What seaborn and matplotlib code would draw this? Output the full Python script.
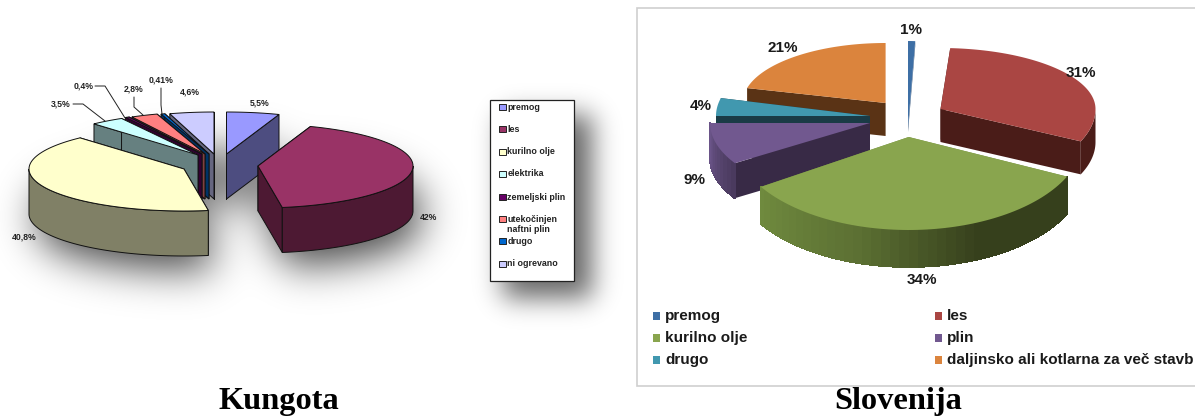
import numpy as np
import matplotlib
matplotlib.use('Agg')
import matplotlib.pyplot as plt
from matplotlib.patches import Rectangle
from matplotlib.path import Path
import seaborn as sns

# left pie (Kungota)
kungota_labels = ['premog', 'les', 'kurilno olje', 'elektrika', 'zemeljski plin',
                  'utekočinjen\nnaftni plin', 'drugo', 'ni ogrevano']
kungota_values = [5.5, 42, 40.8, 3.5, 0.4, 2.8, 0.41, 4.6]
kungota_text = ['5,5%', '42%', '40,8%', '3,5%', '0,4%', '2,8%', '0,41%', '4,6%']
kungota_tops = ['#9999FF', '#993366', '#FFFFCC', '#CCFFFF', '#660066', '#FF8080', '#0066CC', '#CCCCFF']
kungota_sides = ['#4D4D80', '#4D1933', '#808066', '#668080', '#330033', '#804040', '#003366', '#666680']

# right pie (Slovenija)
slovenija_labels = ['premog', 'les', 'kurilno olje', 'plin', 'drugo', 'daljinsko ali kotlarna za več stavb']
slovenija_values = [1, 31, 34, 9, 4, 21]
slovenija_text = ['1%', '31%', '34%', '9%', '4%', '21%']
slovenija_tops = ['#3E6FA5', '#AA4643', '#89A54E', '#71588F', '#4198AF', '#DB843D']
slovenija_sides = ['#2A4A70', '#4A1C18', '#6E8B3D', '#382A46', '#1A3B46', '#5A3315']

W, H = 1195, 418


def wedge_angles(values):
    edges = np.cumsum([0] + list(values)) / np.sum(values) * 2 * np.pi
    return edges[:-1], edges[1:]


def rim(cx, cy, rx, ry, ry_front, a, b, n=80):
    t = np.linspace(a, b, n)
    c = np.cos(t)
    return cx + rx * np.sin(t), cy - np.where(c > 0, ry, ry_front) * c


def draw_wedge(ax, a, b, cx, cy, rx, ry, ry_front, depth, top, side, edge, lw, z, gradient=None):
    xs, ys = rim(cx, cy, rx, ry, ry_front, a, b)
    # cut faces first, the rim and the top go over whatever is hidden
    for i in (0, -1):
        ax.fill([cx, xs[i], xs[i], cx], [cy, ys[i], ys[i] + depth, cy + depth],
                color=side, ec=edge, lw=lw, zorder=z)
    # only the front half of the rim can be seen
    a2, b2 = max(a, np.pi / 2), min(b, 3 * np.pi / 2)
    if b2 > a2:
        fx, fy = rim(cx, cy, rx, ry, ry_front, a2, b2)
        if gradient is None:
            ax.fill(np.r_[fx, fx[::-1]], np.r_[fy, fy[::-1] + depth], color=side, ec=edge, lw=lw, zorder=z)
        else:
            # shaded front of a slice
            for i in range(len(fx) - 1):
                c = gradient[min(int(len(gradient) * (1 - i / (len(fx) - 1))), len(gradient) - 1)]
                ax.fill([fx[i], fx[i + 1], fx[i + 1], fx[i]],
                        [fy[i], fy[i + 1], fy[i + 1] + depth, fy[i] + depth],
                        color=c, lw=0.6, ec=c, antialiased=False, zorder=z)
    ax.fill(np.r_[cx, xs], np.r_[cy, ys], color=top, ec=edge, lw=lw, zorder=z + 0.5)


def soft_shadow(ax, mask, sigma, alpha):
    # gaussian blur done in frequency space
    fy = np.fft.fftfreq(mask.shape[0])[:, None]
    fx = np.fft.rfftfreq(mask.shape[1])[None, :]
    blur = np.fft.irfft2(np.fft.rfft2(mask) * np.exp(-2 * (np.pi * sigma) ** 2 * (fx ** 2 + fy ** 2)), s=mask.shape)
    img = np.zeros(mask.shape + (4,))
    img[..., 3] = np.clip(blur, 0, 1) * alpha
    ax.imshow(img, extent=(0, W, H, 0), zorder=0, interpolation='bilinear', aspect='auto')


sns.set_theme(style='white')
plt.rcParams['font.family'] = ['Liberation Sans', 'DejaVu Sans']

fig = plt.figure(figsize=(W / 100, H / 100), dpi=100)
ax = fig.add_axes([0, 0, 1, 1])

# left pie layout
k_centers = [(226.5, 154), (258, 166), (184, 169), (198, 155), (202, 154), (205, 154), (209, 154), (214, 154)]
k_order = [7, 6, 5, 4, 3, 0, 2, 1]
k_rx, k_ry, k_depth = 155, 42, 45
k_a, k_b = wedge_angles(kungota_values)

# shadow thrown by each wedge and by the legend
yy, xx = np.mgrid[0:H, 0:W]
grid = np.c_[xx.ravel() + 0.5, yy.ravel() + 0.5]
mask_pie = np.zeros(xx.shape, dtype=bool)
for i in k_order:
    cx, cy = k_centers[i]
    xs, ys = rim(cx, cy, k_rx, k_ry, k_ry, k_a[i], k_b[i])
    poly = np.c_[np.r_[cx, xs] + 8, np.r_[cy, ys] + k_depth / 2 + 14]
    mask_pie |= Path(poly).contains_points(grid).reshape(xx.shape)
    mask_pie |= Path(poly + [0, k_depth / 2]).contains_points(grid).reshape(xx.shape)
soft_shadow(ax, mask_pie.astype(float), 20, 0.72)
mask_leg = ((xx > 502) & (xx < 592) & (yy > 114) & (yy < 298)).astype(float)
soft_shadow(ax, mask_leg, 13, 0.6)

for z, i in enumerate(k_order):
    cx, cy = k_centers[i]
    draw_wedge(ax, k_a[i], k_b[i], cx, cy, k_rx, k_ry, k_ry, k_depth, kungota_tops[i], kungota_sides[i],
               '#111111', 0.7, 2 + z)

k_label_pos = [(260, 103), (428.6, 217), (24, 237), (61, 104), (84, 86), (134, 89), (161, 80), (190, 92)]
for s, (x, y) in zip(kungota_text, k_label_pos):
    ax.text(x, y, s, fontsize=6.2, fontweight='bold', ha='center', va='center', color='#222222', zorder=30)

# leader lines
leaders = [([73, 83, 105], [104, 104, 121]), ([95, 105, 125], [86, 86, 118]),
           ([134, 134, 143], [97, 107, 115]), ([161, 161, 162], [88, 105, 114])]
for lx, ly in leaders:
    ax.plot(lx, ly, color='#222222', lw=0.7, zorder=30)

# left legend
ax.add_patch(Rectangle((490, 99.5), 84, 181.5, fc='white', ec='#222222', lw=0.9, zorder=10))
leg_y = [107, 129, 152, 174, 197, 219, 241, 264]
for name, c, y in zip(kungota_labels, kungota_tops, leg_y):
    ax.add_patch(Rectangle((499.5, y - 3.5), 6.5, 6.5, fc=c, ec='#222222', lw=0.7, zorder=11))
    for j, part in enumerate(name.split('\n')):
        ax.text(507.5, y + j * 11, part, fontsize=6.4, fontweight='bold', va='center', color='#222222', zorder=11)

# right frame
ax.add_patch(Rectangle((637, 7.5), 600, 378.5, fc='white', ec='#CFCFCF', lw=1.2, zorder=1))

# right pie layout
s_centers = [(908, 127), (940.5, 109), (908.7, 137), (870, 123), (870, 116), (885.6, 103)]
s_rx = [115, 155, 175, 160, 154, 143]
s_ry = [86, 61, 92, 70, 72, 60]
s_ry_front = [86, 76, 93, 75, 70, 60]
s_depth = [5, 33, 37, 35, 33, 33]
s_order = [0, 5, 4, 3, 1, 2]
s_a, s_b = wedge_angles(slovenija_values)
rim_shades = {2: sns.blend_palette(['#6F8A3E', '#5C7033', '#36401C', '#36401C'], 40),
              3: sns.blend_palette(['#6A5488', '#4A3A5E'], 10)}
for z, i in enumerate(s_order):
    cx, cy = s_centers[i]
    draw_wedge(ax, s_a[i], s_b[i], cx, cy, s_rx[i], s_ry[i], s_ry_front[i], s_depth[i], slovenija_tops[i],
               slovenija_sides[i], 'none', 0, 2 + z, gradient=rim_shades.get(i))

s_label_pos = [(911, 30), (1081, 73), (922, 280), (695, 180), (701, 106), (783, 48)]
for s, (x, y) in zip(slovenija_text, s_label_pos):
    ax.text(x, y, s, fontsize=11, fontweight='bold', ha='center', va='center', color='#1A1A1A', zorder=30)

# right legend
marker_x = [653, 935]
text_x = [665, 947]
row_y = [316, 338, 360]
for k, (name, c) in enumerate(zip(slovenija_labels, slovenija_tops)):
    y = row_y[k // 2]
    ax.add_patch(Rectangle((marker_x[k % 2], y - 4), 7.5, 7.5, fc=c, ec='none', zorder=11))
    ax.text(text_x[k % 2], y, name, fontsize=11, fontweight='bold', va='center', color='#1A1A1A', zorder=11)

# captions under the charts
for name, x in [('Kungota', 279), ('Slovenija', 898)]:
    ax.text(x, 409.5, name, fontsize=23.3, fontweight='bold', ha='center', va='baseline',
            family=['Liberation Serif', 'DejaVu Serif'], color='black', zorder=30)

ax.set_xlim(0, W)
ax.set_ylim(H, 0)
ax.axis('off')
fig.savefig('out.png', dpi=100)
